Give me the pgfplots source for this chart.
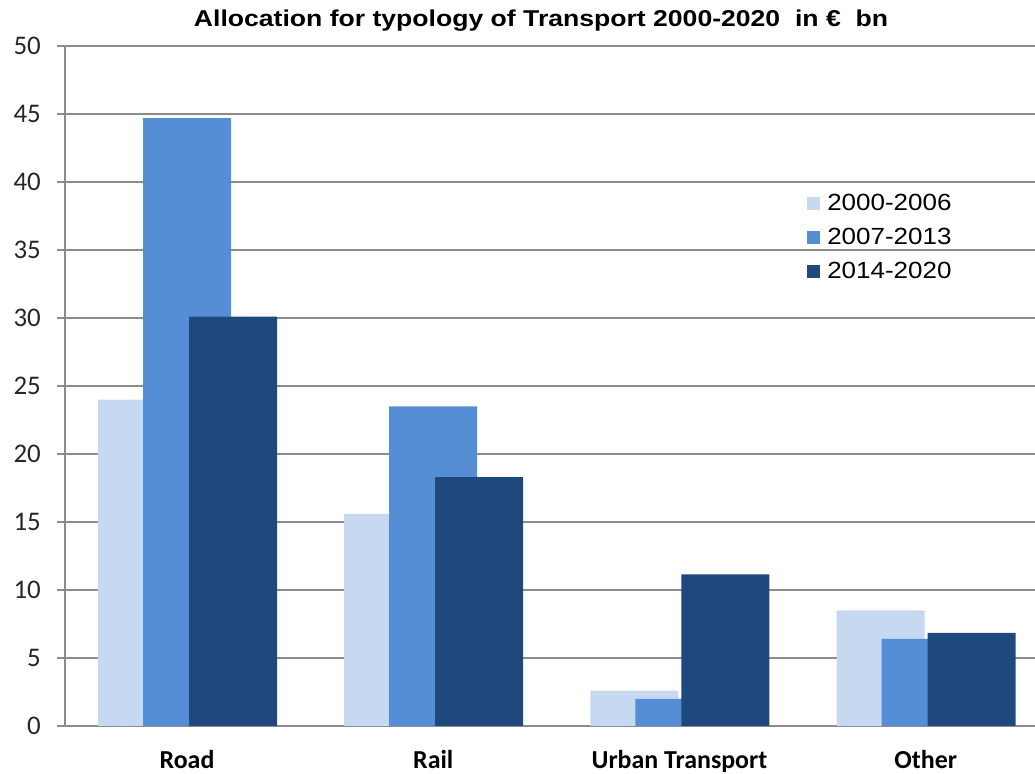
\documentclass[border=0pt]{standalone}
\usepackage{fontspec}
\setmainfont{Carlito}
\newfontfamily\legendfont[FakeStretch=1.11]{Liberation Sans}
\newfontfamily\titlefont[FakeStretch=1.16]{Liberation Sans}
\usepackage{pgfplots}
\pgfplotsset{compat=1.18}
\definecolor{cLight}{RGB}{198,217,241}
\definecolor{cMid}{RGB}{85,142,213}
\definecolor{cDark}{RGB}{31,73,125}
\definecolor{gridgray}{RGB}{140,140,140}
\begin{document}
\begin{tikzpicture}
\begin{axis}[
  at={(0,0)}, anchor=south west,
  scale only axis, width=970bp, height=680bp,
  xmin=-0.4955, xmax=3.444, ymin=0, ymax=50,
  axis x line=bottom, axis y line=left,
  axis line style={draw=gridgray, line width=1.3bp, -},
  xtick={0,1,2,3}, xticklabels={Road,Rail,Urban Transport,Other},
  x tick style={draw=none},
  ytick={0,5,...,50},
  y tick style={draw=gridgray, line width=1.3bp},
  tick align=outside, major tick length=8bp,
  ymajorgrids, grid style={draw=gridgray, line width=1.3bp},
  /pgf/number format/assume math mode=true,
  yticklabel style={font=\fontsize{27}{32}\selectfont, color=black!85, anchor=east, inner sep=0pt, xshift=-16bp},
  xticklabel style={font=\bfseries\fontsize{26}{30}\selectfont, anchor=base, inner sep=0pt, yshift=-34bp},
  legend style={at={(0.765,0.782)}, anchor=north west, draw=none, fill=none, inner sep=0pt,
    font=\legendfont\fontsize{23.5}{28}\selectfont, row sep=16bp,
    nodes={inner sep=0pt},
    /tikz/every odd column/.style={column sep=7bp}},
  legend cell align=left,
  legend image code/.code={\fill[#1] (0bp,-6.5bp) rectangle (13bp,6.5bp);},
]
\addplot[ybar, bar width=88bp, bar shift=-45bp, fill=cLight, draw=none] coordinates {(0,24.0) (1,15.6) (2,2.6) (3,8.5)};
\addplot[ybar, bar width=88bp, bar shift=0bp, fill=cMid, draw=none] coordinates {(0,44.7) (1,23.5) (2,2.0) (3,6.4)};
\addplot[ybar, bar width=88bp, bar shift=46bp, fill=cDark, draw=none] coordinates {(0,30.1) (1,18.3) (2,11.15) (3,6.85)};
\legend{2000-2006,2007-2013,2014-2020}
\end{axis}
\node[anchor=base, inner sep=0pt, font=\titlefont\bfseries\fontsize{23}{27}\selectfont] at (476bp,699bp) {Allocation for typology of Transport 2000-2020\ \ in €\ \ bn};
\pgfresetboundingbox
\path[use as bounding box] (-65bp,-48bp) rectangle (970bp,726bp);
\end{tikzpicture}
\end{document}
